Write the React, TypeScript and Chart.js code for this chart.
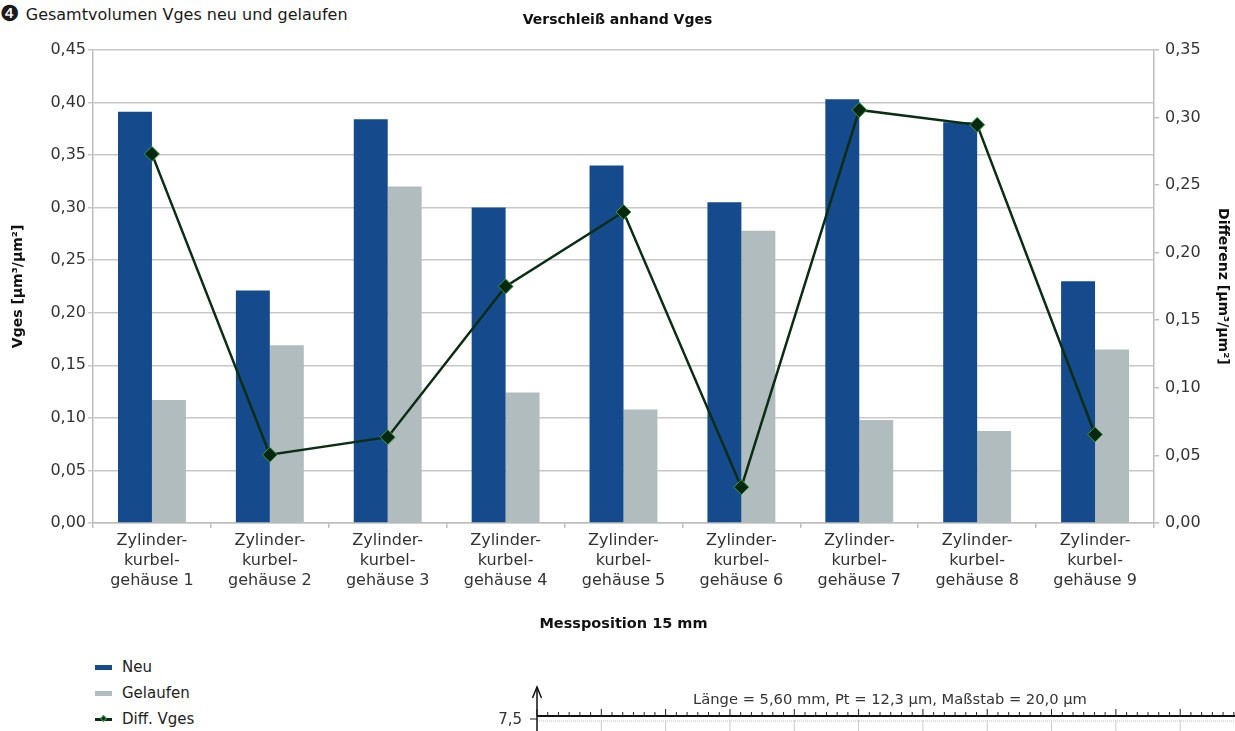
import React, { useEffect, useRef } from "react";
import { Chart, registerables } from "chart.js";

Chart.register(...registerables);

const FONT = "'DejaVu Sans', sans-serif";

const caption = "Gesamtvolumen Vges neu und gelaufen";
const chartTitle = "Verschleiß anhand Vges";
const xAxisTitle = "Messposition 15 mm";
const leftAxisTitle = "Vges [µm³/µm²]";
const rightAxisTitle = "Differenz [µm³/µm²]";

const categories: string[][] = [
  ["Zylinder-", "kurbel-", "gehäuse 1"],
  ["Zylinder-", "kurbel-", "gehäuse 2"],
  ["Zylinder-", "kurbel-", "gehäuse 3"],
  ["Zylinder-", "kurbel-", "gehäuse 4"],
  ["Zylinder-", "kurbel-", "gehäuse 5"],
  ["Zylinder-", "kurbel-", "gehäuse 6"],
  ["Zylinder-", "kurbel-", "gehäuse 7"],
  ["Zylinder-", "kurbel-", "gehäuse 8"],
  ["Zylinder-", "kurbel-", "gehäuse 9"],
];

const neuValues = [0.391, 0.221, 0.384, 0.3, 0.34, 0.305, 0.403, 0.381, 0.23];
const gelaufenValues = [0.117, 0.169, 0.32, 0.124, 0.108, 0.278, 0.098, 0.0875, 0.165];
const diffValues = [0.273, 0.0505, 0.0635, 0.175, 0.23, 0.0265, 0.3055, 0.2945, 0.0655];

const leftAxisMax = 0.45;
const rightAxisMax = 0.35;
const tickStep = 0.05;

const legendLabels = ["Neu", "Gelaufen", "Diff. Vges"];
const profileText = "Länge = 5,60 mm, Pt = 12,3 µm, Maßstab = 20,0 µm";
const profileTickLabel = "7,5";

const COLOR_NEU = "#154a8c";
const COLOR_GEL = "#b0bcbd";
const COLOR_DIFF = "#0b2d14";

const fmt = (v: number | string) => Number(v).toFixed(2).replace(".", ",");

function MainChart() {
  const ref = useRef<HTMLCanvasElement | null>(null);
  useEffect(() => {
    if (!ref.current) return;
    const tickFont = { family: FONT, size: 16, lineHeight: 1.25 };
    const titleFont = { family: FONT, size: 14, weight: "bold" as const };
    const chart = new Chart(ref.current, {
      type: "bar",
      data: {
        labels: categories,
        datasets: [
          {
            type: "line" as const,
            label: legendLabels[2],
            data: diffValues,
            yAxisID: "y1",
            borderColor: COLOR_DIFF,
            borderWidth: 2.5,
            pointStyle: "rectRot",
            pointRadius: 7.5,
            pointBackgroundColor: "#06280e",
            pointBorderColor: "#3c9c48",
            pointBorderWidth: 1,
            tension: 0,
            order: 0,
          } as any,
          {
            label: legendLabels[0],
            data: neuValues,
            yAxisID: "y",
            backgroundColor: COLOR_NEU,
            borderWidth: 0,
            categoryPercentage: 0.576,
            barPercentage: 1,
            order: 1,
          },
          {
            label: legendLabels[1],
            data: gelaufenValues,
            yAxisID: "y",
            backgroundColor: COLOR_GEL,
            borderWidth: 0,
            categoryPercentage: 0.576,
            barPercentage: 1,
            order: 1,
          },
        ],
      },
      options: {
        animation: false,
        responsive: true,
        maintainAspectRatio: false,
        layout: { padding: 0 },
        plugins: {
          legend: { display: false },
          tooltip: { enabled: false },
          title: {
            display: true,
            text: chartTitle,
            font: titleFont,
            color: "#111",
            padding: { top: 12, bottom: 21 },
          },
        },
        scales: {
          x: {
            offset: true,
            grid: {
              display: true,
              offset: true,
              drawOnChartArea: false,
              drawTicks: true,
              tickLength: 5,
              color: "#bdbdbd",
              lineWidth: 1.5,
            },
            border: { color: "#bdbdbd", width: 1.5 },
            ticks: {
              font: tickFont,
              color: "#333",
              padding: 3,
              maxRotation: 0,
              autoSkip: false,
            },
            title: {
              display: true,
              text: xAxisTitle,
              font: { family: FONT, size: 14.5, weight: "bold" },
              color: "#111",
              padding: { top: 0, bottom: 17 },
            },
            afterFit: (s: any) => {
              s.height = 127;
            },
          },
          y: {
            position: "left",
            min: 0,
            max: leftAxisMax,
            ticks: {
              stepSize: tickStep,
              callback: (v: any) => fmt(v),
              font: tickFont,
              color: "#333",
              padding: 2,
            },
            grid: { color: "#c8c8c8", lineWidth: 1.5, tickLength: 5 },
            border: { color: "#bdbdbd", width: 1.5 },
            title: {
              display: true,
              text: leftAxisTitle,
              font: titleFont,
              color: "#111",
              padding: { top: 10, bottom: 0 },
            },
            afterFit: (s: any) => {
              s.width = 93;
            },
          },
          y1: {
            position: "right",
            min: 0,
            max: rightAxisMax,
            ticks: {
              stepSize: tickStep,
              callback: (v: any) => fmt(v),
              font: tickFont,
              color: "#333",
              padding: 6,
            },
            grid: { drawOnChartArea: false, tickLength: 5, color: "#bdbdbd", lineWidth: 1.5 },
            border: { color: "#bdbdbd", width: 1.5 },
            title: {
              display: true,
              text: rightAxisTitle,
              font: titleFont,
              color: "#111",
              padding: { top: 4, bottom: 0 },
            },
            afterFit: (s: any) => {
              s.width = 81;
            },
          },
        },
      } as any,
    });
    return () => chart.destroy();
  }, []);
  return (
    <div style={{ position: "absolute", left: 0, top: 0, width: 1235, height: 650 }}>
      <canvas ref={ref} />
    </div>
  );
}

function Legend() {
  const colors = [COLOR_NEU, COLOR_GEL, COLOR_DIFF];
  const tops = [658, 684, 710];
  return (
    <>
      {legendLabels.map((lab, i) => (
        <div
          key={lab}
          style={{
            position: "absolute",
            left: 95,
            top: tops[i],
            height: 18,
            display: "flex",
            alignItems: "center",
            fontFamily: FONT,
            fontSize: 15,
            color: "#222",
          }}
        >
          <div style={{ position: "relative", width: 17, height: 18, marginRight: 10 }}>
            <div
              style={{
                position: "absolute",
                left: 0,
                top: i === 2 ? 8 : 7,
                width: 17,
                height: i === 2 ? 2.5 : 5,
                background: colors[i],
              }}
            />
            {i === 2 && (
              <div
                style={{
                  position: "absolute",
                  left: 6,
                  top: 6,
                  width: 5,
                  height: 5,
                  background: "#06280e",
                  border: "1px solid #3c9c48",
                  boxSizing: "border-box",
                  transform: "rotate(45deg)",
                }}
              />
            )}
          </div>
          <span>{lab}</span>
        </div>
      ))}
    </>
  );
}

function ProfileFragment() {
  const x0 = 537;
  const yLine = 716;
  const minor = 10.72;
  const ticks: React.ReactNode[] = [];
  for (let k = 0; x0 + k * minor < 1235; k++) {
    const x = x0 + k * minor;
    const major = k % 6 === 0;
    ticks.push(
      <line key={"t" + k} x1={x} x2={x} y1={major ? 709 : 712} y2={yLine} stroke="#222" strokeWidth={1} />
    );
    if (major && k > 0) {
      ticks.push(
        <line key={"g" + k} x1={x} x2={x} y1={720} y2={731} stroke="#ccc" strokeWidth={1} />
      );
    }
  }
  return (
    <svg
      width={1235}
      height={731}
      style={{ position: "absolute", left: 0, top: 0, pointerEvents: "none" }}
    >
      <text x={890} y={704} textAnchor="middle" fontFamily={FONT} fontSize={14.7} fill="#333">
        {profileText}
      </text>
      <text x={522} y={724} textAnchor="end" fontFamily={FONT} fontSize={15} fill="#333">
        {profileTickLabel}
      </text>
      <line x1={x0 - 7} x2={x0} y1={719} y2={719} stroke="#222" strokeWidth={1} />
      <line x1={x0} x2={1235} y1={721} y2={721} stroke="#bbb" strokeWidth={1} strokeDasharray="1 1" />
      {ticks}
      <line x1={x0} x2={1235} y1={yLine} y2={yLine} stroke="#111" strokeWidth={2} />
      <line x1={x0} x2={x0} y1={687} y2={731} stroke="#111" strokeWidth={1.5} />
      <polyline points={`${x0 - 4.5},698 ${x0},687 ${x0 + 4.5},698`} fill="none" stroke="#111" strokeWidth={1.5} />
    </svg>
  );
}

export default function App() {
  return (
    <div
      style={{
        position: "fixed",
        left: 0,
        top: 0,
        width: 1235,
        height: 731,
        background: "#fff",
        overflow: "hidden",
      }}
    >
      <div
        style={{
          position: "absolute",
          left: 0,
          top: 2,
          height: 24,
          display: "flex",
          alignItems: "center",
          fontFamily: FONT,
          fontSize: 16,
          color: "#1a1a1a",
          whiteSpace: "nowrap",
        }}
      >
        <span style={{ fontSize: 22, lineHeight: "22px", marginRight: 6 }}>❹</span>
        <span>{caption}</span>
      </div>
      <MainChart />
      <Legend />
      <ProfileFragment />
    </div>
  );
}
